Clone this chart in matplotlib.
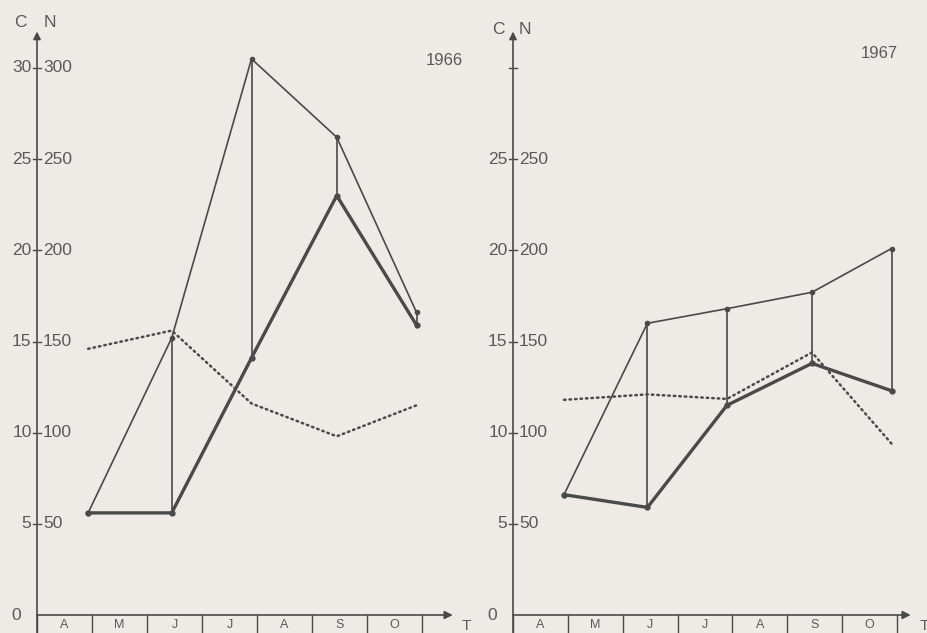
import matplotlib
matplotlib.use("Agg")
import matplotlib.pyplot as plt

# mesiace a odbery
months = ["A", "M", "J", "J", "A", "S", "O"]
sample_x = [0.93, 2.45, 3.9, 5.45, 6.9]

# 1966
n_upper_1966 = [56, 152, 305, 262, 166]
n_lower_1966 = [56, 56, 141, 230, 159]
c_1966 = [14.6, 15.6, 11.6, 9.8, 11.5]

# 1967
n_upper_1967 = [66, 160, 168, 177, 201]
n_lower_1967 = [66, 59, 115, 138, 123]
c_1967 = [11.8, 12.1, 11.85, 14.4, 9.4]

c_ticks = [5, 10, 15, 20, 25, 30]
n_ticks = [50, 100, 150, 200, 250, 300]

paper = "#eeeae5"
ink = "#4a4a4a"
txt = "#5a5a5a"
font = "Liberation Sans"

fig = plt.figure(figsize=(9.28, 6.33), dpi=100, facecolor=paper)


def panel(rect, upper, lower, c, year, year_xy, x_end, t_x, cn_pos, labeled):
    ax = fig.add_axes(rect)
    ax.set_xlim(0, 7)
    ax.set_ylim(0, 300)
    ax.axis("off")

    # osi so sipkami
    ax.annotate("", xy=(0, 320), xytext=(0, -12),
                arrowprops=dict(arrowstyle="-|>", color=ink, lw=1.2,
                                mutation_scale=11, shrinkA=0, shrinkB=0),
                annotation_clip=False)
    ax.annotate("", xy=(x_end, 0), xytext=(0, 0),
                arrowprops=dict(arrowstyle="-|>", color=ink, lw=1.2,
                                mutation_scale=12, shrinkA=0, shrinkB=0),
                annotation_clip=False)
    ax.text(t_x, -6, "T", ha="center", va="center", fontsize=11,
            color=txt, family=font, clip_on=False)

    # boxy s mesiacmi
    for i in range(len(months) + 1):
        ax.plot([i, i], [0, -12], color=ink, lw=1.0, clip_on=False)
    for i, m in enumerate(months):
        ax.text(i + 0.5, -5.5, m, ha="center", va="center", fontsize=9,
                color=txt, family=font, clip_on=False)

    # ticky a popisky
    for cv, nv in zip(c_ticks, n_ticks):
        ax.plot([-0.07, 0.07], [nv, nv], color=ink, lw=1.0, clip_on=False)
        if nv in labeled:
            ax.text(-0.1, nv, str(cv), ha="right", va="center", fontsize=12.5,
                    color=txt, family=font, clip_on=False)
            ax.text(0.11, nv, str(nv), ha="left", va="center", fontsize=12.5,
                    color=txt, family=font, clip_on=False)
    ax.text(-0.3, 0, "0", ha="right", va="center", fontsize=12.5,
            color=txt, family=font, clip_on=False)
    ax.text(cn_pos[0], cn_pos[2], "C", ha="center", va="center", fontsize=12.5,
            color=txt, family=font, clip_on=False)
    ax.text(cn_pos[1], cn_pos[2], "N", ha="center", va="center", fontsize=12.5,
            color=txt, family=font, clip_on=False)

    # data
    for x, lo, up in zip(sample_x, lower, upper):
        ax.plot([x, x], [lo, up], color=ink, lw=1.2, clip_on=False)
    ax.plot(sample_x, upper, color=ink, lw=1.2, marker="o", ms=3,
            clip_on=False)
    ax.plot(sample_x, lower, color=ink, lw=2.4, marker="o", ms=3.5,
            clip_on=False)
    ax.plot(sample_x, [v * 10 for v in c], color=ink, lw=1.8,
            linestyle=(0, (0.6, 1.6)), dash_capstyle="round", clip_on=False)

    ax.text(year_xy[0], year_xy[1], year, ha="center", va="center",
            fontsize=12, color=txt, family=font, clip_on=False)
    return ax


bottom = (633 - 615) / 633
height = (615 - 68) / 633
panel([37 / 928, bottom, 385 / 928, height], n_upper_1966, n_lower_1966,
      c_1966, "1966", (7.4, 304), 7.56, 7.8, (-0.31, 0.24, 325),
      n_ticks)
panel([513 / 928, bottom, 384 / 928, height], n_upper_1967, n_lower_1967,
      c_1967, "1967", (6.67, 308), 7.25, 7.5, (-0.27, 0.22, 321),
      [50, 100, 150, 200, 250])

fig.savefig("out.png", dpi=100, facecolor=paper)
